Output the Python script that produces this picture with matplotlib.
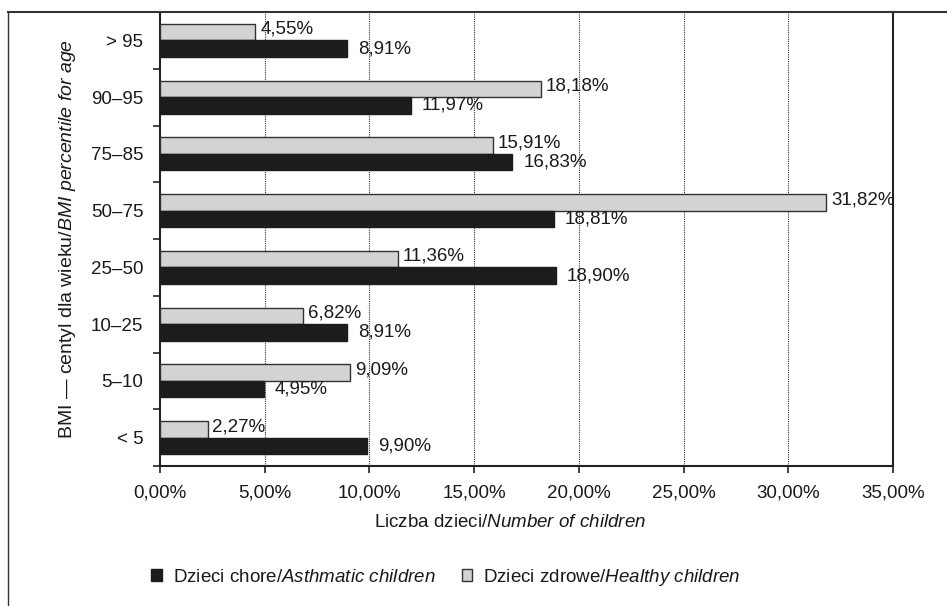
import matplotlib
matplotlib.use('Agg')
import matplotlib.pyplot as plt
import numpy as np
from matplotlib.lines import Line2D
from matplotlib.ticker import FixedLocator, FuncFormatter

plt.rcParams['font.family'] = ['Liberation Sans', 'DejaVu Sans']
plt.rcParams['mathtext.fontset'] = 'custom'
plt.rcParams['mathtext.rm'] = 'Liberation Sans'
plt.rcParams['mathtext.it'] = 'Liberation Sans:italic'

# categories from bottom to top
categories = ['< 5', '5\u201310', '10\u201325', '25\u201350', '50\u201375', '75\u201385', '90\u201395', '> 95']
healthy = [2.27, 9.09, 6.82, 11.36, 31.82, 15.91, 18.18, 4.55]
asthmatic = [9.90, 4.95, 8.91, 18.90, 18.81, 16.83, 11.97, 8.91]
x_ticks = [0, 5, 10, 15, 20, 25, 30, 35]

def pl(v):
    return ('%.2f' % v).replace('.', ',') + '%'

fig = plt.figure(figsize=(9.47, 6.06), dpi=100)
ax = fig.add_axes([160 / 947, 140 / 606, 733 / 947, 454 / 606])

y = np.arange(len(categories))
h = 0.29
gray = '#d3d3d3'
black = '#1c1c1c'
txt = '#1a1a1a'
fs = 13.5

ax.barh(y + h / 2, healthy, height=h, color=gray, edgecolor='#333333', linewidth=1.0, zorder=3)
ax.barh(y - h / 2, asthmatic, height=h, color=black, edgecolor=black, linewidth=1.0, zorder=3)

for yi, v in zip(y, healthy):
    ax.annotate(pl(v), (v, yi + h / 2), xytext=(3.5, 2), textcoords='offset points',
                va='center', ha='left', fontsize=fs, color=txt, zorder=4)
for yi, v in zip(y, asthmatic):
    ax.annotate(pl(v), (v, yi - h / 2), xytext=(8, 0), textcoords='offset points',
                va='center', ha='left', fontsize=fs, color=txt, zorder=4)

ax.set_xlim(0, 35)
ax.set_ylim(-0.5, len(categories) - 0.5)
ax.set_xticks(x_ticks)
ax.xaxis.set_major_formatter(FuncFormatter(lambda v, p: pl(v)))
ax.set_yticks(y)
ax.set_yticklabels(categories)
ax.yaxis.set_minor_locator(FixedLocator(np.arange(-0.5, len(categories), 1.0)))
ax.tick_params(axis='y', which='major', length=0, pad=12, labelsize=fs, labelcolor=txt)
ax.tick_params(axis='y', which='minor', length=5, width=1.2, color='#222222')
ax.tick_params(axis='x', which='major', length=5, width=1.2, color='#222222', labelsize=fs,
               labelcolor=txt, pad=8)

for xv in x_ticks[1:-1]:
    ax.axvline(xv, color='#333333', linestyle=(0, (1, 1)), linewidth=0.8, zorder=1)

ax.spines['top'].set_visible(False)
for s in ax.spines.values():
    s.set_color('#222222')
    s.set_linewidth(1.5)

ax.set_xlabel(r'Liczba dzieci/$\mathit{Number\ of\ children}$', fontsize=fs, color=txt)
ax.xaxis.set_label_coords((510 - 160) / 733, (466 - 514) / 454)
ax.set_ylabel('BMI \u2014 centyl dla wieku/$\\mathit{BMI\\ percentile\\ for\\ age}$', fontsize=14,
              color=txt, labelpad=9)

# outer frame (top and left edges visible)
fig.add_artist(Line2D([8 / 947, 1.0], [1 - 12 / 606, 1 - 12 / 606], transform=fig.transFigure,
                      color='#333333', linewidth=1.5))
fig.add_artist(Line2D([8 / 947, 8 / 947], [0, 1 - 12 / 606], transform=fig.transFigure,
                      color='#333333', linewidth=1.0))

handles = [plt.Rectangle((0, 0), 1, 1, facecolor=black, edgecolor=black),
           plt.Rectangle((0, 0), 1, 1, facecolor=gray, edgecolor='#333333')]
labels = [r'Dzieci chore/$\mathit{Asthmatic\ children}$', r'Dzieci zdrowe/$\mathit{Healthy\ children}$']
fig.legend(handles, labels, loc='center', bbox_to_anchor=(446 / 947, 1 - 577 / 606), ncol=2,
           frameon=False, fontsize=fs, handlelength=0.55, handleheight=0.55, handletextpad=0.6,
           columnspacing=1.4, labelcolor=txt)

fig.savefig('out.png', dpi=100)
